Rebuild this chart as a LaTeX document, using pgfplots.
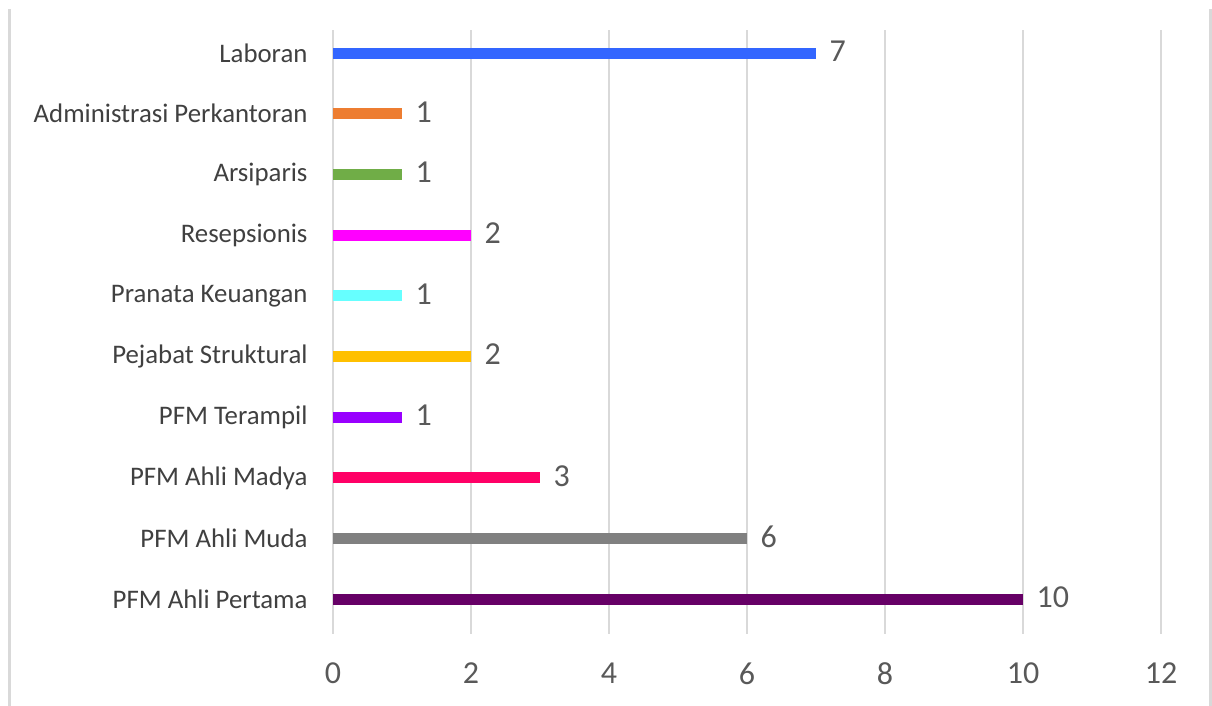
\documentclass[border=0pt]{standalone}
\usepackage{pgfplots}
\pgfplotsset{compat=1.18}
\usepackage{fontspec}
\setmainfont{Carlito}
\definecolor{gridc}{HTML}{D9D9D9}
\definecolor{catc}{HTML}{404040}
\definecolor{numc}{HTML}{595959}
\definecolor{c1}{HTML}{3366FF}
\definecolor{c2}{HTML}{ED7D31}
\definecolor{c3}{HTML}{70AD47}
\definecolor{c4}{HTML}{FF00FF}
\definecolor{c5}{HTML}{66FFFF}
\definecolor{c6}{HTML}{FFC000}
\definecolor{c7}{HTML}{9900FF}
\definecolor{c8}{HTML}{FF0066}
\definecolor{c9}{HTML}{808080}
\definecolor{c10}{HTML}{660066}
\begin{document}
\begin{tikzpicture}[x=1bp,y=1bp]
\useasboundingbox (0,0) rectangle (1212,706);
\draw[gridc, line width=2.5bp] (9.5,0) -- (9.5,697);
\draw[gridc, line width=2.5bp] (1210.5,0) -- (1210.5,697);
\begin{axis}[
  at={(333bp,72bp)}, anchor=south west,
  scale only axis, width=828bp, height=604bp,
  xmin=0, xmax=12, ymin=-0.57, ymax=9.38,
  /pgf/number format/assume math mode=true,
  xtick={0,2,...,12},
  ytick={0,...,9},
  yticklabels={PFM Ahli Pertama,PFM Ahli Muda,PFM Ahli Madya,PFM Terampil,Pejabat Struktural,Pranata Keuangan,Resepsionis,Arsiparis,Administrasi Perkantoran,Laboran},
  axis line style={draw=none},
  major tick length=0pt,
  xmajorgrids, grid style={gridc, line width=2bp},
  xticklabel style={font=\fontsize{32bp}{32bp}\selectfont, text=numc, yshift=-25bp},
  yticklabel style={font=\fontsize{26.8bp}{26.8bp}\selectfont, text=catc, xshift=-22bp},
  xbar, bar width=11bp, bar shift=0pt,
  nodes near coords,
  every node near coord/.append style={font=\fontsize{32bp}{32bp}\selectfont, text=numc, anchor=west, xshift=10bp, yshift=2bp},
  clip=false,
]
\addplot[draw=none, fill=c10] coordinates {(10,0)};
\addplot[draw=none, fill=c9] coordinates {(6,1)};
\addplot[draw=none, fill=c8] coordinates {(3,2)};
\addplot[draw=none, fill=c7] coordinates {(1,3)};
\addplot[draw=none, fill=c6] coordinates {(2,4)};
\addplot[draw=none, fill=c5] coordinates {(1,5)};
\addplot[draw=none, fill=c4] coordinates {(2,6)};
\addplot[draw=none, fill=c3] coordinates {(1,7)};
\addplot[draw=none, fill=c2] coordinates {(1,8)};
\addplot[draw=none, fill=c1] coordinates {(7,9)};
\end{axis}
\end{tikzpicture}
\end{document}
